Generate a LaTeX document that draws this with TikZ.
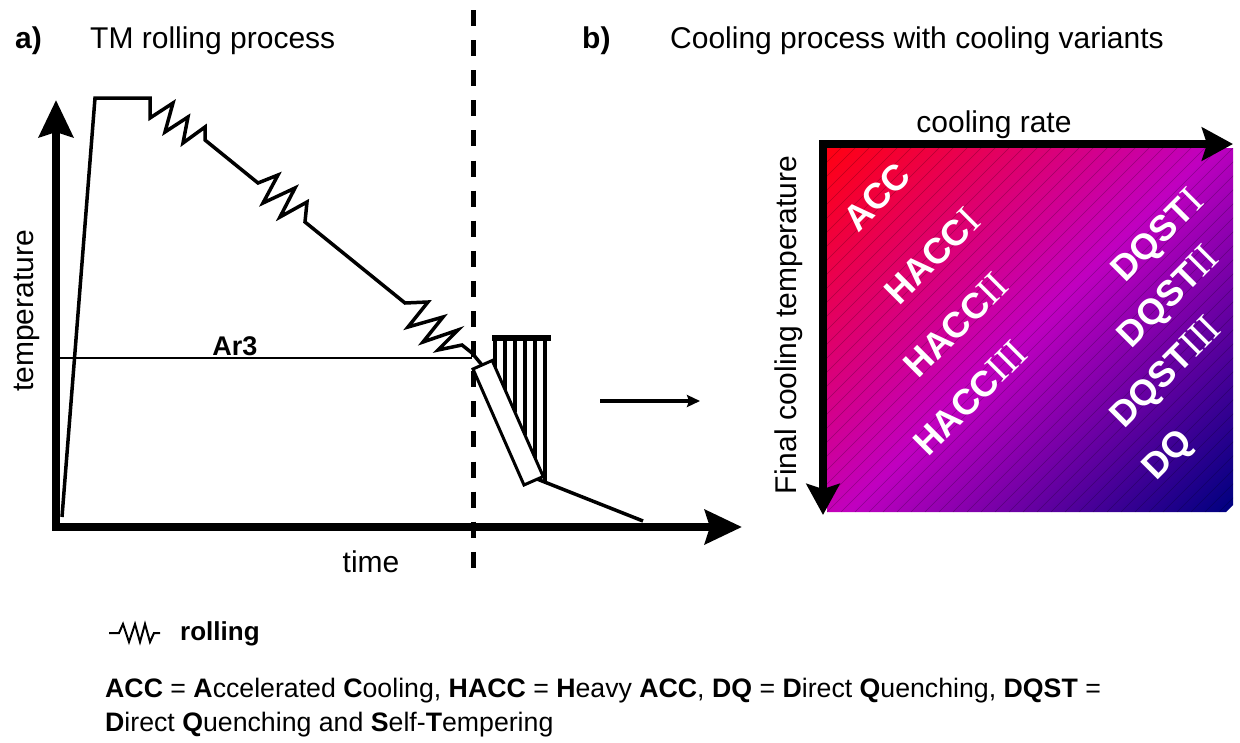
\documentclass[tikz,border=0pt]{standalone}
\usepackage{fontspec}
\setmainfont{Liberation Sans}
\newfontfamily\romfont{Liberation Serif}
\usetikzlibrary{arrows.meta}
\definecolor{gradred}{RGB}{255,0,20}
\definecolor{gradmag}{RGB}{192,0,192}
\definecolor{gradnavy}{RGB}{0,0,128}
\pgfdeclarehorizontalshading{coolgrad}{100bp}{color(0bp)=(gradred); color(15bp)=(gradred); color(50bp)=(gradmag); color(85bp)=(gradnavy); color(100bp)=(gradnavy)}
\newcommand\rnum[1]{{\romfont\mdseries\fontsize{39}{42}\selectfont #1}}
\tikzset{
  axisline/.style={line width=8pt, line join=miter, arrows={Stealth[length=37pt,width=34pt,inset=5pt]-Stealth[length=37pt,width=34pt,inset=5pt]}},
  ratearrow/.style={line width=8pt, line join=miter, arrows={Stealth[length=31pt,width=33pt,inset=5pt]-Stealth[length=31pt,width=33pt,inset=5pt]}},
  linkarrow/.style={line width=4pt, -{Stealth[length=13pt,width=12pt,inset=2pt]}},
  curve/.style={line width=3.5pt, line join=miter, line cap=butt},
  bar/.style={line width=3pt, fill=white, draw=black},
  hatchline/.style={line width=3.5pt},
  hatchtop/.style={line width=6pt},
  thinline/.style={line width=1.5pt},
  sepline/.style={line width=5pt, dash pattern=on 16pt off 14.1pt},
  bandline/.style={line width=0.5pt, black, opacity=0.25},
  legendzig/.style={line width=2pt, line join=miter},
  title/.style={font=\fontsize{30}{36}\selectfont, anchor=base west, inner sep=0pt},
  axislabel/.style={font=\fontsize{30}{36}\selectfont, anchor=base, inner sep=0pt},
  arlabel/.style={font=\bfseries\fontsize{27}{32}\selectfont, anchor=base, inner sep=0pt},
  variant/.style={font=\bfseries\fontsize{36}{40}\selectfont, text=white, rotate=45, inner sep=0pt},
  note/.style={font=\fontsize{26.7}{32}\selectfont, anchor=base west, inner sep=0pt},
}
\begin{document}
\begin{tikzpicture}[x=1pt,y=-1pt]
\useasboundingbox (0,0) rectangle (1240,742);
\node[title] (ta) at (15,48) {\bfseries a)};
\node[title] (tatext) at (90,48) {TM rolling process};
\node[title] (tb) at (582,48) {\bfseries b)};
\node[title] (tbtext) at (670,48) {Cooling process with cooling variants};
\draw[sepline] (473,10) -- (473,578);
% a) TM rolling
\coordinate (ytip) at (56,100);
\coordinate (orig) at (56,527);
\coordinate (xtip) at (742,527);
\draw[thinline] (60,358) -- (472,358);
\node[arlabel] (ar3) at (235,355) {Ar3};
\draw[curve] (62,517) -- (95,98) -- (150,98) -- (150,118) -- (173,103) -- (165,132) -- (188,117) -- (183,143) -- (205,127) -- (205,140)
  -- (258,183) -- (278,175) -- (263,203) -- (295,188) -- (280,217) -- (307,202) -- (305,222)
  -- (405,303) -- (428,302) -- (408,327) -- (443,317) -- (423,342) -- (458,330) -- (438,350) -- (462,345) -- (472,353) -- (482,365);
\foreach \hx in {495,505,515,525,535,545}
  \draw[hatchline] (\hx,338) -- (\hx,{360.5+(\hx-492.2)*2.2745});
\draw[hatchtop] (492,338) -- (551,338);
\draw[curve] (537,479) -- (643,521);
\draw[bar] (473,369) -- (492.2,360.5) -- (543.2,476.5) -- (524,485) -- cycle;
\draw[axisline] (ytip) -- (orig) -- (xtip);
\node[axislabel, rotate=90] (temp) at (34,311) {temperature};
\node[axislabel] (time) at (371,572) {time};
\coordinate (arrs) at (600,401);
\coordinate (arre) at (700,401);
\draw[linkarrow] (arrs) -- (arre);
% b) cooling variants
\shade[shading=coolgrad, shading angle=-45] (827,148) -- (1233,148) -- (1233,505) -- (1226,512) -- (827,512) -- cycle;
\begin{scope}
\clip (827,148) -- (1233,148) -- (1233,505) -- (1226,512) -- (827,512) -- cycle;
\foreach \d in {0,14,...,784}
  \draw[bandline] (463+\d,512) -- ++(400,-400);
\end{scope}
\coordinate (bottip) at (823,515);
\coordinate (corner) at (823,144);
\coordinate (righttip) at (1233,144);
\draw[ratearrow] (bottip) -- (corner) -- (righttip);
\node[axislabel] (rate) at (994,132) {cooling rate};
\node[axislabel, rotate=90] (fct) at (796,325) {Final cooling temperature};
\node[variant] (acc) at (877,197) {ACC};
\node[variant] (hacc1) at (932,256) {HACC\rnum{I}};
\node[variant] (hacc2) at (956,325) {HACC\rnum{II}};
\node[variant] (hacc3) at (970,398) {HACC\rnum{III}};
\node[variant] (dqst1) at (1159,237) {DQST\rnum{I}};
\node[variant] (dqst2) at (1170,298) {DQST\rnum{II}};
\node[variant] (dqst3) at (1167,374) {DQST\rnum{III}};
\node[variant] (dq) at (1169,456) {DQ};
% legend
\draw[legendzig] (109,633) -- (119,633) -- (123,624) -- (129,642) -- (135,624) -- (140,642) -- (145,624) -- (150,642) -- (154,633) -- (160,633);
\node[note, font=\bfseries\fontsize{26}{32}\selectfont] (roll) at (180,640) {rolling};
\node[note] (abbr1) at (105,697) {\textbf{ACC} = \textbf{A}ccelerated \textbf{C}ooling, \textbf{HACC} = \textbf{H}eavy \textbf{ACC}, \textbf{DQ} = \textbf{D}irect \textbf{Q}uenching, \textbf{DQST} =};
\node[note] (abbr2) at (105,731) {\textbf{D}irect \textbf{Q}uenching and \textbf{S}elf-\textbf{T}empering};
\end{tikzpicture}
\end{document}
